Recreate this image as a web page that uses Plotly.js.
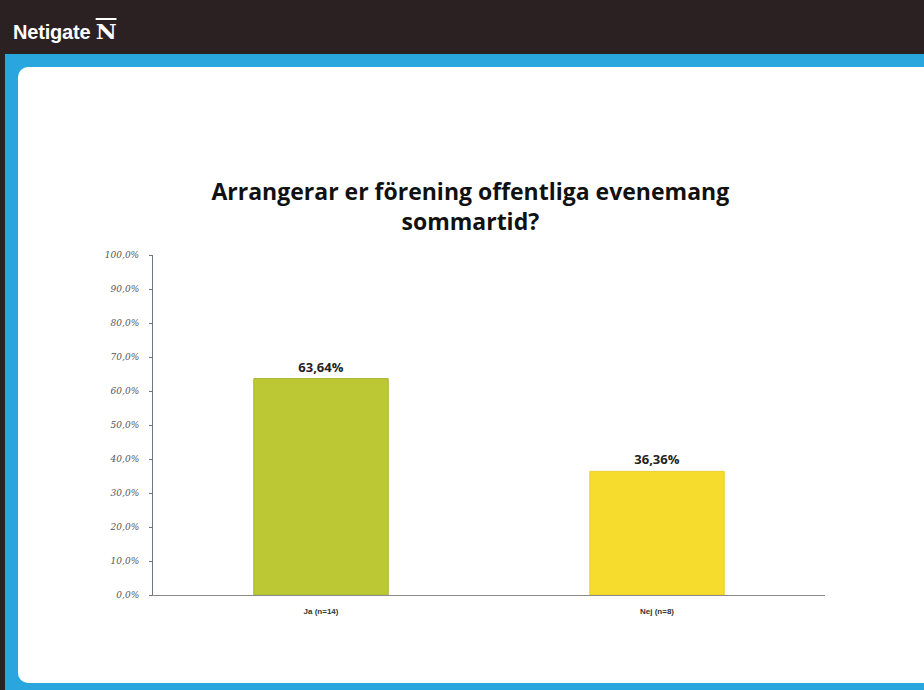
<!DOCTYPE html>
<html>
<head>
<meta charset="utf-8">
<script src="https://cdn.plot.ly/plotly-3.0.1.min.js"></script>
<style>
html,body{margin:0;padding:0;width:924px;height:690px;overflow:hidden;background:#2a2122;}
#header{position:absolute;left:0;top:0;width:924px;height:54px;background:#2b2122;}
#logo{position:absolute;left:13px;top:20px;height:26px;font-family:"Liberation Sans",Arial,sans-serif;font-weight:bold;font-size:20px;color:#fff;letter-spacing:-0.2px;}
#logo .mark{font-family:"DejaVu Serif",serif;font-weight:bold;font-size:20px;margin-left:7px;display:inline-block;transform:scaleX(1.15);text-decoration:overline;}
#blue{position:absolute;left:5px;top:54px;width:919px;height:636px;background:#2aa6df;}
#panel{position:absolute;left:18px;top:67px;width:906px;height:616px;background:#fff;border-top-left-radius:10px;border-bottom-left-radius:10px;}
#chart{position:absolute;left:0;top:0;width:924px;height:690px;}
</style>
</head>
<body>
<div id="header"><div id="logo">Netigate<span class="mark">N</span></div></div>
<div id="blue"></div>
<div id="panel"></div>
<div id="chart"></div>
<script>
const categories = ["Ja (n=14)", "Nej (n=8)"];
const values = [0.6364, 0.3636];
const valueLabels = ["63,64%", "36,36%"];
const tickVals = [0, 0.1, 0.2, 0.3, 0.4, 0.5, 0.6, 0.7, 0.8, 0.9, 1.0];
const tickText = ["0,0%", "10,0%", "20,0%", "30,0%", "40,0%", "50,0%", "60,0%", "70,0%", "80,0%", "90,0%", "100,0%"];
const barColors = ["#bcc934", "#f6dc2c"];
const titleText = "Arrangerar er förening offentliga evenemang<br>sommartid?";

const trace = {
  type: "bar",
  x: categories,
  y: values,
  text: valueLabels,
  textposition: "outside",
  cliponaxis: false,
  textfont: {family: "Open Sans, sans-serif", size: 13, color: "#222", weight: "bold"},
  marker: {color: barColors, line: {color: ["#a9b52c", "#e9cf28"], width: 1}},
  width: 0.4,
  hoverinfo: "none"
};

const layout = {
  width: 924, height: 690,
  paper_bgcolor: "rgba(0,0,0,0)",
  plot_bgcolor: "rgba(0,0,0,0)",
  margin: {l: 153, r: 99, t: 255, b: 95},
  showlegend: false,
  title: {
    text: titleText,
    font: {family: "Open Sans, sans-serif", size: 23, color: "#111", weight: "bold"},
    x: 0.509, xanchor: "center",
    y: 1 - 200/690, yanchor: "top", yref: "container"
  },
  xaxis: {
    type: "category",
    showline: true, linecolor: "#8a8a8a", linewidth: 1,
    showgrid: false, zeroline: false,
    ticks: "", tickfont: {family: "Liberation Sans Narrow, Arial, sans-serif", size: 8, color: "#333", weight: "bold"},
    ticklabelstandoff: 8
  },
  yaxis: {
    range: [0, 1],
    tickvals: tickVals, ticktext: tickText,
    showline: true, linecolor: "#6f7680", linewidth: 1,
    showgrid: false, zeroline: false,
    ticks: "outside", ticklen: 3, tickcolor: "#6f7680",
    tickfont: {family: "DejaVu Serif, serif", size: 9, color: "#555", style: "italic"},
    ticklabelstandoff: 8
  }
};

Plotly.newPlot("chart", [trace], layout, {staticPlot: true, displayModeBar: false});
</script>
</body>
</html>
